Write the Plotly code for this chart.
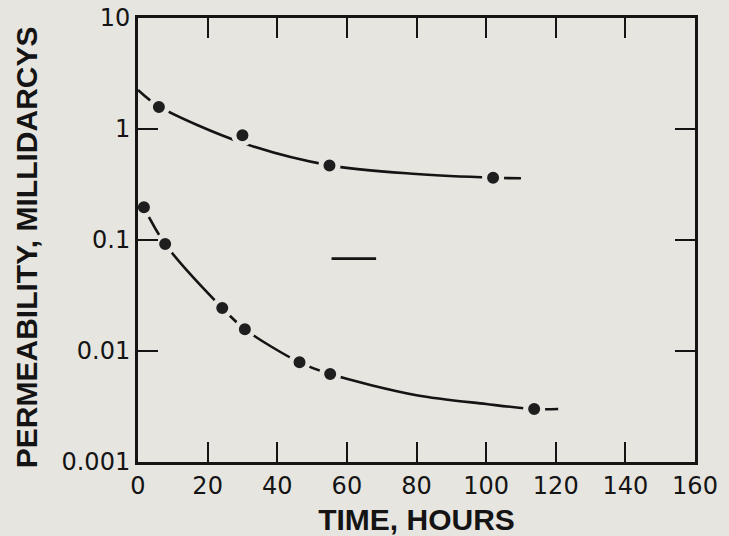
import plotly.graph_objects as go

# Measured permeability (millidarcys) against time (hours)
upper_hours = [6, 30, 55, 102]
upper_perm = [1.58, 0.88, 0.47, 0.364]
lower_hours = [1.7, 7.8, 24.2, 30.7, 46.4, 55.2, 113.8]
lower_perm = [0.197, 0.092, 0.0244, 0.0157, 0.0079, 0.0062, 0.0030]

# Hand-faired trend curves through each set
upper_curve_hours = [0, 6, 30, 55, 80, 102, 110]
upper_curve_perm = [2.25, 1.6, 0.75, 0.47, 0.393, 0.364, 0.36]
lower_curve_hours = [1.7, 7.8, 24.2, 30.7, 46.4, 55.2, 80, 100, 113.8, 120.7]
lower_curve_perm = [0.197, 0.092, 0.0244, 0.0157, 0.0079, 0.0062, 0.0040, 0.00333, 0.0030, 0.0030]

# Short horizontal mark in the middle of the field
mark_hours = [55.6, 68.4]
mark_perm = [0.068, 0.068]

x_ticks = [0, 20, 40, 60, 80, 100, 120, 140, 160]
y_ticks = [0.001, 0.01, 0.1, 1, 10]
y_tick_text = ["0.001", "0.01", "0.1", "1", "10"]

BG = "#e7e5e0"
INK = "#141414"
TICK_FONT = "DejaVu Sans"
TITLE_FONT = "Liberation Sans"

fig = go.Figure()

for cx, cy in [(upper_curve_hours, upper_curve_perm), (lower_curve_hours, lower_curve_perm)]:
    fig.add_trace(go.Scatter(
        x=cx, y=cy, mode="lines",
        line=dict(color=INK, width=2.6, shape="spline", smoothing=0.9),
        hoverinfo="skip", showlegend=False,
    ))

fig.add_trace(go.Scatter(
    x=mark_hours, y=mark_perm, mode="lines",
    line=dict(color=INK, width=2.6), hoverinfo="skip", showlegend=False,
))

# Dots with a background-coloured halo so the curve breaks around them
for px, py in [(upper_hours, upper_perm), (lower_hours, lower_perm)]:
    fig.add_trace(go.Scatter(
        x=px, y=py, mode="markers",
        marker=dict(size=17, color="#1e1e1e", line=dict(color=BG, width=5)),
        showlegend=False,
    ))

fig.update_layout(
    width=729, height=536,
    margin=dict(l=138, r=34, t=18, b=74),
    paper_bgcolor=BG, plot_bgcolor=BG,
    font=dict(family=TICK_FONT, color=INK),
    showlegend=False,
)

# Vertical axis title, placed a little below the plot's mid-height
fig.add_annotation(
    text="PERMEABILITY, MILLIDARCYS", textangle=-90,
    xref="paper", yref="paper", x=-0.201, y=0.484,
    xanchor="center", yanchor="middle", showarrow=False,
    font=dict(size=30, family=TITLE_FONT, color=INK, weight="bold"),
)

fig.update_xaxes(
    range=[0, 160], tickvals=x_ticks, showgrid=False, zeroline=False,
    automargin=False,
    showline=True, linecolor=INK, linewidth=3, mirror="ticks",
    ticks="inside", ticklen=20, tickwidth=2, tickcolor=INK,
    tickfont=dict(size=24, family=TICK_FONT, color=INK),
    title=dict(text="TIME, HOURS",
               font=dict(size=30, family=TITLE_FONT, color=INK, weight="bold"), standoff=14),
)
fig.update_yaxes(
    type="log", range=[-3, 1], tickvals=y_ticks, ticktext=y_tick_text,
    showgrid=False, zeroline=False, automargin=False,
    showline=True, linecolor=INK, linewidth=3, mirror="ticks",
    ticks="inside", ticklen=20, tickwidth=2, tickcolor=INK,
    tickfont=dict(size=24, family=TICK_FONT, color=INK),
)

fig.write_html("out.html")
